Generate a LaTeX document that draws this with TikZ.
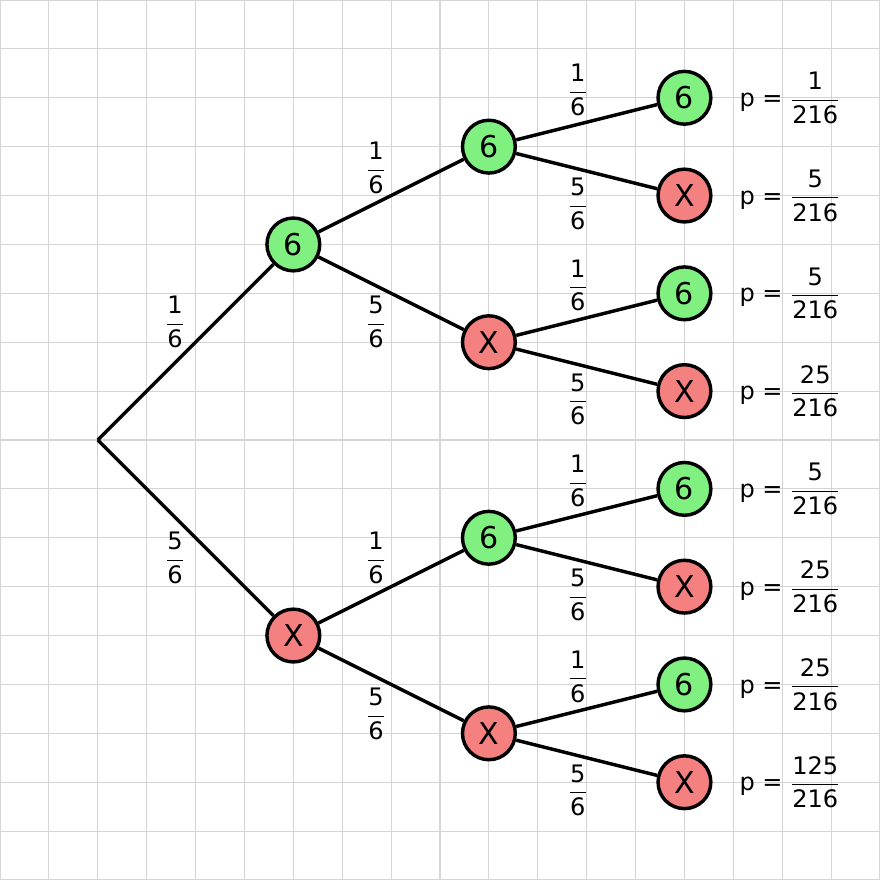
\documentclass[tikz,border=0pt]{standalone}
\usepackage{amsmath}
\usepackage{fontspec}
\setmainfont{DejaVu Sans}
\definecolor{gfill}{HTML}{80F080}
\definecolor{rfill}{HTML}{F48080}
\definecolor{gridc}{HTML}{D4D4D4}
\newcommand{\fr}[2]{$\dfrac{\text{#1}}{\text{#2}}$}
\tikzset{
  circ/.style={circle, draw=black, line width=2pt, minimum size=1.08cm, inner sep=0pt, font=\fontsize{17.5}{20}\selectfont},
  six/.style={circ, fill=gfill},
  ex/.style={circ, fill=rfill},
  edge/.style={line width=2pt},
  lab/.style={font=\fontsize{14}{16}\selectfont, inner sep=0pt},
  plab/.style={font=\fontsize{14}{16}\selectfont, anchor=west, inner sep=0pt}
}
\begin{document}
\begin{tikzpicture}
\useasboundingbox (0,0) rectangle (18,18);
\fill[white] (0,0) rectangle (18,18);
\draw[gridc, line width=0.7pt] (0,0) grid (18,18);
\coordinate (r) at (2,9);
\node[six] (a) at (6,13) {6};
\node[ex] (b) at (6,5) {X};
\node[six] (aa) at (10,15) {6};
\node[ex] (ab) at (10,11) {X};
\node[six] (ba) at (10,7) {6};
\node[ex] (bb) at (10,3) {X};
\node[six] (aaa) at (14,16) {6};
\node[ex] (aab) at (14,14) {X};
\node[six] (aba) at (14,12) {6};
\node[ex] (abb) at (14,10) {X};
\node[six] (baa) at (14,8) {6};
\node[ex] (bab) at (14,6) {X};
\node[six] (bba) at (14,4) {6};
\node[ex] (bbb) at (14,2) {X};
\draw[edge] (r) -- (a);
\draw[edge] (r) -- (b);
\draw[edge] (a) -- (aa);
\draw[edge] (a) -- (ab);
\draw[edge] (b) -- (ba);
\draw[edge] (b) -- (bb);
\draw[edge] (aa) -- (aaa);
\draw[edge] (aa) -- (aab);
\draw[edge] (ab) -- (aba);
\draw[edge] (ab) -- (abb);
\draw[edge] (ba) -- (baa);
\draw[edge] (ba) -- (bab);
\draw[edge] (bb) -- (bba);
\draw[edge] (bb) -- (bbb);
% edge labels
\node[lab] (l1) at (3.58,11.41) {\fr{1}{6}};
\node[lab] (l2) at (3.58,6.59) {\fr{5}{6}};
\node[lab] (l3) at (7.69,14.56) {\fr{1}{6}};
\node[lab] (l4) at (7.69,11.41) {\fr{5}{6}};
\node[lab] (l5) at (7.69,6.59) {\fr{1}{6}};
\node[lab] (l6) at (7.69,3.40) {\fr{5}{6}};
\foreach \y/\n in {15/m1,11/m2,7/m3,3/m4}{
  \node[lab] (\n u) at (11.82,\y+1.16) {\fr{1}{6}};
  \node[lab] (\n d) at (11.82,\y-1.17) {\fr{5}{6}};
}
% probability labels
\node[plab] (p1) at (15.12,16) {p = \fr{1}{216}};
\node[plab] (p2) at (15.12,14) {p = \fr{5}{216}};
\node[plab] (p3) at (15.12,12) {p = \fr{5}{216}};
\node[plab] (p4) at (15.12,10) {p = \fr{25}{216}};
\node[plab] (p5) at (15.12,8) {p = \fr{5}{216}};
\node[plab] (p6) at (15.12,6) {p = \fr{25}{216}};
\node[plab] (p7) at (15.12,4) {p = \fr{25}{216}};
\node[plab] (p8) at (15.12,2) {p = \fr{125}{216}};
\end{tikzpicture}
\end{document}
